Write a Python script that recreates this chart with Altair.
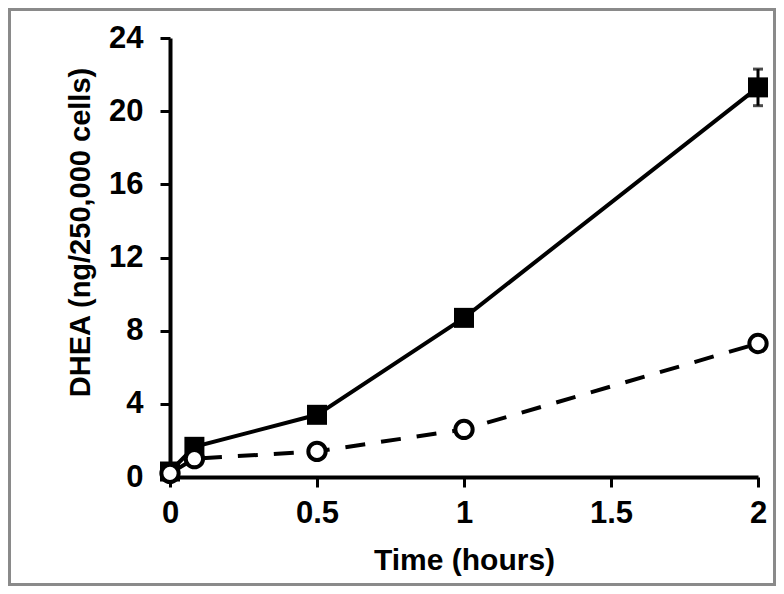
import altair as alt
import pandas as pd

# Time points (hours)
time_sq = [0, 0.083, 0.5, 1, 2]
dhea_sq = [0.3, 1.65, 3.4, 8.7, 21.3]
err_sq = [0, 0, 0, 0, 1.0]

time_ci = [0, 0.083, 0.5, 1, 2]
dhea_ci = [0.2, 1.0, 1.4, 2.6, 7.3]

x_ticks = [0, 0.5, 1, 1.5, 2]
y_ticks = [0, 4, 8, 12, 16, 20, 24]

sq = pd.DataFrame({"t": time_sq, "v": dhea_sq, "e": err_sq})
sq["lo"] = sq["v"] - sq["e"]
sq["hi"] = sq["v"] + sq["e"]
ci = pd.DataFrame({"t": time_ci, "v": dhea_ci})
eb = sq[sq["e"] > 0]

W, H = 588, 439
FONT = "Liberation Sans"

xs = alt.Scale(domain=[0, 2], nice=False, zero=False)
ys = alt.Scale(domain=[0, 24], nice=False)

xax = alt.Axis(values=x_ticks, format=".1~f", title="Time (hours)", grid=False,
               domainWidth=4, domainColor="black", tickColor="black", tickWidth=3, tickSize=10,
               labelFont=FONT, labelFontSize=31, labelFontWeight="bold", labelColor="black",
               labelPadding=11, labelFlush=False,
               titleFont=FONT, titleFontSize=30, titleFontWeight="bold", titleColor="black",
               titleX=W / 2, titleY=92, titleBaseline="alphabetic")
yax = alt.Axis(values=y_ticks, title="DHEA (ng/250,000 cells)", grid=False,
               domainWidth=4, domainColor="black", tickColor="black", tickWidth=3, tickSize=10,
               labelFont=FONT, labelFontSize=31, labelFontWeight="bold", labelColor="black",
               labelPadding=17, labelFlush=False,
               titleFont=FONT, titleFontSize=29, titleFontWeight="bold", titleColor="black",
               titleX=-90, titleY=194, titleAngle=270, titleBaseline="middle", titleAlign="center")

border = alt.Chart(sq).mark_rect(fillOpacity=0, stroke="#8a8a8a", strokeWidth=3).encode(
    x=alt.value(-160.5), x2=alt.value(W + 16.5),
    y=alt.value(-28.5), y2=alt.value(H + 107.5)
).transform_filter("datum.t == 0")

base_sq = alt.Chart(sq).encode(x=alt.X("t:Q", scale=xs, axis=xax), y=alt.Y("v:Q", scale=ys, axis=yax))
line_sq = base_sq.mark_line(color="black", strokeWidth=4)
pts_sq = base_sq.mark_point(shape="square", size=400, filled=True, color="black", opacity=1)

err_rule = alt.Chart(eb).mark_rule(color="black", strokeWidth=3).encode(
    x=alt.X("t:Q", scale=xs), y=alt.Y("lo:Q", scale=ys), y2="hi:Q")
cap_hi = alt.Chart(eb).mark_tick(color="black", thickness=3, size=10, orient="horizontal").encode(
    x=alt.X("t:Q", scale=xs), y=alt.Y("hi:Q", scale=ys))
cap_lo = alt.Chart(eb).mark_tick(color="black", thickness=3, size=10, orient="horizontal").encode(
    x=alt.X("t:Q", scale=xs), y=alt.Y("lo:Q", scale=ys))

base_ci = alt.Chart(ci).encode(x=alt.X("t:Q", scale=xs), y=alt.Y("v:Q", scale=ys))
line_ci = base_ci.mark_line(color="black", strokeWidth=4, strokeDash=[20, 16])
pts_ci = base_ci.mark_point(shape="circle", size=300, filled=False, fill="white",
                            stroke="black", strokeWidth=4, opacity=1)

chart = alt.layer(border, err_rule, cap_hi, cap_lo, line_sq, pts_sq, line_ci, pts_ci).properties(
    width=W, height=H,
    autosize=alt.AutoSizeParams(type="none"),
    padding={"left": 162, "top": 30, "right": 18, "bottom": 109},
    background="white"
).configure_view(stroke=None)

chart.save("out.html", embed_options={"renderer": "svg", "actions": False})
